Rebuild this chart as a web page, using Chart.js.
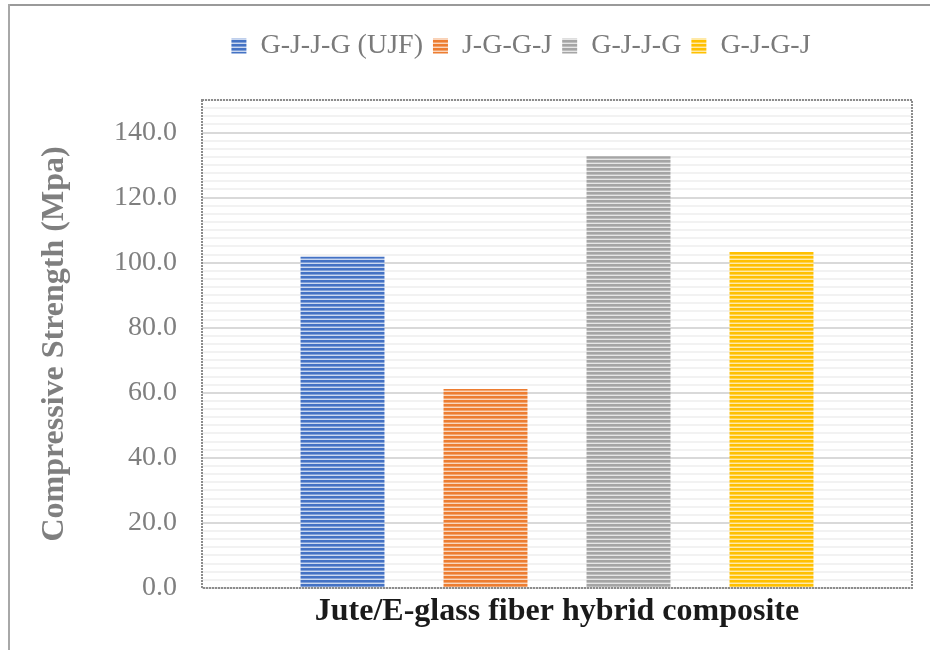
<!DOCTYPE html>
<html>
<head>
<meta charset="utf-8">
<script src="https://cdn.jsdelivr.net/npm/chart.js@4.4.1/dist/chart.umd.min.js"></script>
<style>
  html, body { margin: 0; padding: 0; background: #ffffff; }
  #wrap { position: relative; width: 930px; height: 650px; }
</style>
</head>
<body>
<div id="wrap"><canvas id="chart" width="930" height="650"></canvas></div>
<script>
// Compressive strength of jute / E-glass hybrid laminates by stacking sequence
const categoryLabels = [''];
const seriesNames = ['G-J-J-G (UJF)', 'J-G-G-J', 'G-J-J-G', 'G-J-G-J'];
const strengthValues = [101.8, 61.2, 132.7, 103.3];
const majorTicks = [0, 20, 40, 60, 80, 100, 120, 140];
const xTitle = 'Jute/E-glass fiber hybrid composite';
const yTitle = 'Compressive Strength (Mpa)';

// dark / mid / light stripe shades per series
const seriesShades = [
  ['#4472C4', '#7f9fd8', '#cad8f0'],
  ['#ED7D31', '#f2a46e', '#fad6bd'],
  ['#A5A5A5', '#bdbdbd', '#e6e6e6'],
  ['#FFC000', '#ffd24d', '#ffeaa8']
];

const FONT = '"Liberation Serif", "Times New Roman", serif';
const canvas = document.getElementById('chart');
const ctx = canvas.getContext('2d');

function stripes(shades) {
  const tile = document.createElement('canvas');
  tile.width = 4; tile.height = 4;
  const g = tile.getContext('2d');
  g.fillStyle = shades[0]; g.fillRect(0, 0, 4, 2);
  g.fillStyle = shades[1]; g.fillRect(0, 2, 4, 1);
  g.fillStyle = shades[2]; g.fillRect(0, 3, 4, 1);
  return ctx.createPattern(tile, 'repeat');
}

const datasets = seriesNames.map((name, i) => ({
  label: name,
  data: [strengthValues[i]],
  backgroundColor: stripes(seriesShades[i]),
  borderWidth: 0,
  categoryPercentage: 0.8056,
  barPercentage: 0.587
}));

const framePlugin = {
  id: 'frame',
  beforeInit(chart) {
    const lg = chart.legend;
    if (lg) {
      const fit = lg.fit;
      lg.fit = function () { fit.call(this); this.height = 78; };
    }
  },
  afterLayout(chart) {
    const lg = chart.legend;
    if (lg) { lg.left = 130; lg.right = 912; }
  },
  afterDraw(chart) {
    const c = chart.ctx;
    const a = chart.chartArea;
    c.save();
    // dotted plot-area border
    c.strokeStyle = '#8c8c8c';
    c.lineWidth = 2;
    c.setLineDash([2, 1]);
    c.strokeRect(a.left, a.top, a.right - a.left, a.bottom - a.top);
    c.setLineDash([]);
    // outer frame (top and left edges)
    c.fillStyle = '#9a9a9a';
    c.fillRect(8, 4, 922, 2);
    c.fillStyle = '#a8a8a8';
    c.fillRect(8, 4, 2, 646);
    c.restore();
  }
};

new Chart(ctx, {
  type: 'bar',
  data: { labels: categoryLabels, datasets },
  plugins: [framePlugin],
  options: {
    responsive: false,
    devicePixelRatio: 1,
    animation: false,
    layout: { padding: { top: 22, right: 18, bottom: 0, left: 0 } },
    plugins: {
      tooltip: { enabled: false },
      legend: {
        position: 'top',
        labels: {
          boxWidth: 15,
          boxHeight: 15,
          padding: 10,
          color: '#7a7a7a',
          font: { family: FONT, size: 28 }
        }
      }
    },
    scales: {
      x: {
        afterFit(s) { s.height = 62; },
        grid: { display: false, drawTicks: false },
        border: { display: false },
        ticks: { display: false },
        title: {
          display: true,
          text: xTitle,
          color: '#1a1a1a',
          font: { family: FONT, size: 32, weight: 'bold' },
          padding: { top: 0, bottom: 19 }
        }
      },
      y: {
        min: 0,
        max: 150,
        afterFit(s) { s.width = 202; },
        border: { display: false },
        grid: {
          drawTicks: false,
          lineWidth: 2,
          color: (c) => (c.tick && c.tick.value % 20 === 0) ? '#d9d9d9' : '#f2f2f2'
        },
        ticks: {
          stepSize: 2.5,
          autoSkip: false,
          padding: 25,
          color: '#7f7f7f',
          font: { family: FONT, size: 28 },
          callback: (v) => majorTicks.includes(v) ? v.toFixed(1) : ''
        },
        title: {
          display: true,
          text: yTitle,
          color: '#7f7f7f',
          font: { family: FONT, size: 32, weight: 'bold' },
          padding: { top: 36, bottom: 0 }
        }
      }
    }
  }
});
</script>
</body>
</html>
